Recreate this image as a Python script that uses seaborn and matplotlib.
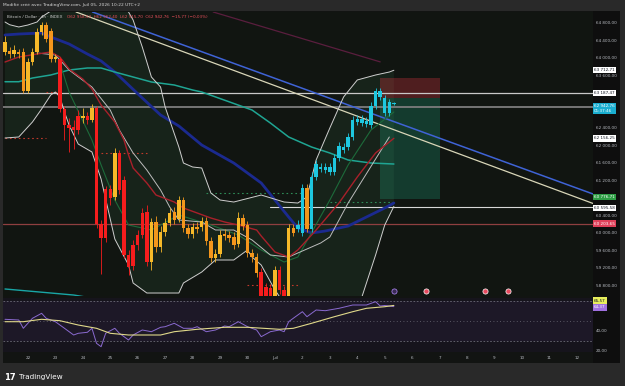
import numpy as np
import matplotlib
matplotlib.use("Agg")
import matplotlib.pyplot as plt
import matplotlib.transforms as mtransforms
from matplotlib.patches import Rectangle
import seaborn as sns

# ------------------------------------------------------------------ data
open_ = [64130, 64153, 64084, 64130, 64130, 63238, 63901, 64130, 64587, 64747,
         64610, 63970, 63970, 62826, 62460, 62415, 62666, 62621, 62666, 62575,
         62849, 60196, 59876, 60997, 60814, 61820, 61203, 59487, 59236, 59716,
         59945, 60471, 59327, 60242, 59670, 60013, 60219, 60471, 60310, 60745,
         60105, 59967, 60127, 60127, 60265, 59808, 59418, 59510, 59967, 59945,
         59899, 59739, 60333, 60173, 59533, 59441, 59098, 58458, 58732, 58458,
         59144, 58687, 58458, 60105, 60082, 59990, 61019, 60082, 61271, 61454,
         61431, 61500, 61385, 61706, 61889, 61957, 62186, 62529, 62598, 62483,
         62460, 62895, 63238, 63078, 62735, 62958.53]
close_ = [64359, 64084, 64176, 64084, 63238, 63901, 64130, 64587, 64747, 64427,
          63970, 64016, 62826, 62460, 62392, 62346, 62346, 62666, 62575, 62849,
          60196, 59876, 60997, 60791, 61820, 60974, 59487, 59213, 59716, 59945,
          60448, 59327, 60242, 59670, 60013, 60219, 60448, 60288, 60745, 60105,
          59967, 60127, 60082, 60265, 59808, 59418, 59510, 59945, 59922, 59876,
          59716, 60333, 60150, 59533, 59441, 59075, 58458, 58755, 58458, 59144,
          58687, 58458, 60105, 59990, 60173, 61019, 60082, 61271, 61568, 61500,
          61500, 61385, 61706, 61980, 61957, 62186, 62575, 62598, 62506, 62552,
          62895, 63238, 63101, 62735, 62986, 62942.76]
high = [64496, 64244, 64290, 64198, 64221, 63993, 64221, 64679, 64816, 64816,
        64679, 64084, 64016, 62895, 62621, 62575, 62803, 62849, 62758, 62941,
        62895, 60288, 61065, 61088, 61934, 61889, 61294, 59602, 59830, 60059,
        60562, 60631, 60333, 60379, 60150, 60333, 60562, 60585, 60837, 60814,
        60196, 60219, 60242, 60356, 60356, 59899, 59624, 60059, 60082, 60036,
        60013, 60471, 60425, 60265, 59624, 59533, 59190, 58847, 58824, 59236,
        59236, 58778, 60196, 60196, 60288, 61111, 61111, 61385, 61660, 61591,
        61591, 61591, 61797, 62072, 62049, 62277, 62666, 62689, 62689, 62643,
        62986, 63307, 63307, 63146, 63055, 62975]
low = [64061, 63993, 64016, 63993, 63192, 63192, 63832, 64084, 64519, 64359,
       63901, 63901, 62758, 62117, 61843, 61911, 62254, 62506, 62483, 62529,
       60105, 59052, 59785, 60631, 60745, 60882, 59418, 59029, 59144, 59602,
       59876, 59236, 59144, 59556, 59556, 59922, 60150, 60196, 60242, 60013,
       59876, 59876, 59990, 60036, 59716, 59327, 59327, 59441, 59830, 59785,
       59624, 59670, 60059, 59441, 59327, 58984, 58344, 58344, 58344, 58344,
       58595, 58344, 58344, 59922, 60013, 59922, 60013, 60013, 61203, 61385,
       61362, 61317, 61317, 61637, 61820, 61889, 62117, 62460, 62437, 62415,
       62392, 62826, 63032, 62666, 62666, 62915]
bar_kind = list("YOYOOYYYYO" "OYRRRRRYRY" "RRRRYRRRRR" "RRYOYYYOYO"
                "OYOYOOYYOO" "OYOOOORRRY" "RRYOCCOCCC" "CCCCCCCCCC" "CCCCCC")

# Bollinger bands (vertex index, price)
bb_up_idx = [0, 1, 3, 5, 7, 8, 10, 13, 20, 25, 27, 28, 30, 32, 34, 35, 38, 39, 41, 43,
             45, 47, 50, 56, 61, 64, 66, 68, 71, 74, 77, 81, 84, 85]
bb_up_val = [64816, 64754, 64702, 64747, 64816, 64930, 65067, 65350, 65450, 65250,
             65045, 64862, 64244, 63558, 63329, 62872, 61957, 61591, 61500, 61477,
             60905, 60745, 60699, 60859, 60699, 60676, 60814, 61660, 62392, 63101,
             63490, 63604, 63672, 63712.71]
bb_lo_idx = [0, 3, 4, 6, 8, 10, 11, 12, 13, 14, 16, 19, 21, 23, 24, 27, 28, 31, 38, 39,
             43, 46, 50, 53, 54, 56, 59, 62, 66, 70, 74, 78, 81, 83, 85]
bb_lo_val = [62163, 62186, 62300, 62529, 62826, 63146, 63215, 63101, 62758, 62460,
             62025, 61843, 61225, 60310, 59853, 59258, 58847, 58618, 58618, 58847,
             59098, 59373, 59373, 59602, 59441, 59258, 58687, 58229, 58046, 58046,
             58183, 58526, 59487, 60173, 60599.79]
bb_mid_idx = [0, 3, 7, 10, 12, 14, 17, 19, 21, 24, 26, 27, 28, 31, 33, 37, 39, 42, 45,
              48, 51, 55, 56, 59, 62, 64, 68, 73, 77, 81, 85]
bb_mid_val = [63901, 64015, 64084, 64130, 64015, 63741, 63512, 63284, 62918, 62529,
              62117, 61774, 61477, 61134, 60859, 60699, 60562, 60448, 60333, 60242,
              60173, 60059, 59922, 59556, 59441, 59602, 60059, 60676, 61271, 61820,
              62156.25]
ema_w_idx = [7, 11, 14, 19, 23, 25, 28, 31, 34, 36, 38, 43, 46, 50, 54, 58, 62, 64,
             69, 71, 75, 84]
ema_w_val = [64107, 64061, 63718, 63329, 62803, 62346, 61820, 61431, 60974, 60585,
             60288, 60242, 60059, 60059, 59830, 59487, 59441, 59533, 59762, 59899,
             60676, 62186]
ema_g_idx = [12, 14, 19, 21, 24, 27, 32, 38, 45, 51, 56, 61, 64, 71, 75, 80, 85]
ema_g_val = [63878, 63215, 62117, 61546, 60745, 60173, 60059, 60402, 60173, 59945,
             59602, 59327, 59441, 60745, 61546, 62346, 62758]
navy_idx = [0, 3, 8, 10, 14, 18, 21, 24, 27, 30, 34, 38, 43, 50, 56, 59, 62, 64, 67,
            70, 75, 79, 83, 85]
navy_val = [64519, 64541, 64564, 64473, 64313, 64084, 63924, 63672, 63375, 63078,
            62689, 62437, 62003, 61591, 61134, 60745, 60356, 60105, 59990, 60036,
            60150, 60356, 60562, 60676]
teal_idx = [0, 3, 6, 10, 14, 18, 21, 24, 28, 32, 37, 41, 43, 54, 58, 62, 67, 71, 75,
            80, 85]
teal_val = [63450, 63450, 63535, 63604, 63718, 63764, 63764, 63672, 63558, 63444,
            63375, 63261, 63215, 62803, 62506, 62186, 61957, 61820, 61660, 61591,
            61568]
long_ma_idx = [0, 15, 25]
long_ma_val = [58710, 58572, 58400]

# drawn levels / lines
full_levels = [63187.47, 62880, 60203.65]
ray_level, ray_start = 60595.58, 58
trend_blue = [(71, 63071), (119.1, 61241)]
trend_white = [(71, 62895), (119.1, 61031)]
trend_mag_idx = [45.5, 82]
trend_mag_val = [65045, 63904]
pos_start, pos_end = 82, 95
pos_entry, pos_stop, pos_target = 63071, 63535, 60776.71
dot_levels = [(62163, 0, 9, 'r'), (63215, 9, 12, 'r'), (61827, 21, 31, 'r'),
              (60898, 44, 65, 'g'), (60706, 71, 85, 'g'), (58801, 53, 64, 'r')]
event_idx = [85, 92, 105, 110]
event_kind = ['p', 'r', 'r', 'r']

# RSI
rsi_idx = [0, 3, 4, 6, 8, 9, 11, 13, 15, 16, 18, 19, 20, 21, 22, 24, 25, 27, 28, 30,
           32, 34, 35, 37, 39, 41, 42, 44, 46, 48, 49, 51, 53, 55, 56, 58, 60, 61,
           62, 63, 65, 66, 68, 70, 73, 76, 77, 79, 81, 82, 83, 85]
rsi_val = [51.7, 51, 42.7, 52.7, 57.7, 52.7, 49.3, 42.7, 36, 37.7, 38.7, 42.7, 27.7,
           24.3, 37.7, 42.7, 37.7, 31, 36, 41, 39.3, 43.7, 44.3, 47.7, 42.7, 42.7,
           44.3, 39.3, 41, 45, 44.3, 49.3, 44.3, 41, 34.3, 39.3, 41, 39.3, 49.3,
           52.7, 59.3, 54.3, 61, 60.3, 62.7, 66, 66, 66, 69.3, 65, 65.5, 64.37]
rsi_ma_idx = [0, 4, 8, 12, 16, 20, 23, 27, 34, 37, 42, 48, 53, 60, 63, 67, 72, 76,
              79, 83, 85]
rsi_ma_val = [49.3, 49.3, 51.7, 50.3, 46, 42.7, 37.7, 36, 36, 39.3, 41.7, 43.7, 43.7,
              41.7, 42.7, 47.7, 54.3, 59.3, 62.7, 64.3, 65.57]

price_ticks = list(range(58800, 64801, 400))
hidden_ticks = [63200, 62800, 60800]
rsi_ticks = [20, 40]
day_labels = ['22', '23', '24', '25', '26', '27', '28', '29', '30', 'Juil',
              '2', '3', '4', '5', '6', '7', '8', '9', '10', '11', '12']
first_day_idx, bars_per_day = 5, 6

axis_labels = [63712.71, 63187.47, 62156.25, 60776.71, 60595.58, 60203.65]
axis_label_fc = ['#ffffff', '#ffffff', '#ffffff', '#2e9e45', '#ffffff', '#e0405a']
axis_label_tc = ['#131722', '#131722', '#131722', '#ffffff', '#131722', '#ffffff']
axis_label_shift = [0, 0, 0, 1.6, -1.6, 0]          # px, to stack touching labels
last_close_label = (62942.76, '01:37:46')
rsi_labels = [65.57, 64.37]
rsi_label_fc = ['#e7ee5c', '#a070e0']
rsi_label_tc = ['#131722', '#ffffff']
rsi_label_shift = [4.7, -0.8]

# ------------------------------------------------------------------ style
sns.set_style("dark")
plt.rcParams['font.family'] = ['DejaVu Sans']

W, H = 625, 386
fig = plt.figure(figsize=(W / 100, H / 100), dpi=100)
fig.patch.set_facecolor('#292929')


def fx(px):
    return px / W


def fy(py):
    return 1 - py / H


def fr(v):
    return f"{v:,.2f}".replace(',', ' ').replace('.', ',')


fig.patches.append(Rectangle((fx(3), fy(363)), fx(620) - fx(3), fy(11) - fy(363),
                             transform=fig.transFigure, facecolor='#121412',
                             edgecolor='none', zorder=-5))
fig.patches.append(Rectangle((fx(593), fy(363)), fx(620) - fx(593), fy(11) - fy(363),
                             transform=fig.transFigure, facecolor='#0e0e0e',
                             edgecolor='none', zorder=-4))

ax = fig.add_axes([fx(3), fy(296), fx(593) - fx(3), fy(12) - fy(296)])
axr = fig.add_axes([fx(3), fy(352), fx(593) - fx(3), fy(298) - fy(352)])
XL = (-0.44, 128.52)
for a in (ax, axr):
    a.set_xlim(*XL)
    for s in a.spines.values():
        s.set_visible(False)
    a.grid(False)
ax.set_facecolor('#111511')
axr.set_facecolor('#16141c')
ax.set_ylim(58549.6, 65044.7)
axr.set_ylim(19, 73)

# ---- BB fill + lines
ax.fill(np.r_[bb_up_idx, bb_lo_idx[::-1]], np.r_[bb_up_val, bb_lo_val[::-1]],
        color='#3c6e4e', alpha=0.16, lw=0, zorder=1)

level_col = ['#c9c9c9', '#7d7d7d', '#8f3f40']
level_lw = [0.9, 1.3, 0.9]
for lv, col, lw in zip(full_levels, level_col, level_lw):
    ax.axhline(lv, color=col, lw=lw, zorder=2)
ax.plot([ray_start, XL[1]], [ray_level, ray_level], color='#d8d8d8', lw=0.8, zorder=2)

for (p1, p2), col, lw in [(trend_blue, '#3f63d6', 1.1), (trend_white, '#d9d6b8', 0.9)]:
    ax.axline(p1, p2, color=col, lw=lw, zorder=3)
ax.plot(trend_mag_idx, trend_mag_val, color='#5a1e3e', lw=0.9, zorder=3)

ax.fill_between([pos_start, pos_end], pos_entry, pos_stop, color='#f23645', alpha=0.28,
                lw=0, zorder=1)
ax.fill_between([pos_start, pos_end], pos_target, pos_entry, color='#1f9e7a', alpha=0.28,
                lw=0, zorder=1)

for lv, s, e, c in dot_levels:
    ax.plot([s, e], [lv, lv], ls=(0, (1.5, 2.5)), lw=0.8,
            color='#c0392b' if c == 'r' else '#2e8b57', zorder=2)

sns.lineplot(x=long_ma_idx, y=long_ma_val, ax=ax, color='#19a6a6', lw=1.0, zorder=3)
sns.lineplot(x=navy_idx, y=navy_val, ax=ax, color='#1b2a8f', lw=2.0, zorder=3)
sns.lineplot(x=teal_idx, y=teal_val, ax=ax, color='#1fa593', lw=1.1, zorder=3)
sns.lineplot(x=ema_g_idx, y=ema_g_val, ax=ax, color='#1d6b3a', lw=0.8, zorder=3)
sns.lineplot(x=bb_up_idx, y=bb_up_val, ax=ax, color='#cfcfcf', lw=0.7, zorder=3)
sns.lineplot(x=bb_lo_idx, y=bb_lo_val, ax=ax, color='#cfcfcf', lw=0.7, zorder=3)
sns.lineplot(x=ema_w_idx, y=ema_w_val, ax=ax, color='#bdbdbd', lw=0.7, zorder=3)
sns.lineplot(x=bb_mid_idx, y=bb_mid_val, ax=ax, color='#a8202a', lw=1.0, zorder=3)

# ---- candles
palette = {'R': '#f51d1d', 'O': '#f3961c', 'Y': '#f6b929', 'C': '#1ec8e0'}
idx = np.arange(len(open_))
o, c = np.array(open_, float), np.array(close_, float)
bottoms = np.minimum(o, c)
heights = np.maximum(np.abs(c - o), 25)
cols = [palette[k] for k in bar_kind]
ax.vlines(idx, low, high, colors=cols, lw=0.6, zorder=4)
ax.bar(idx, heights, bottom=bottoms, width=0.76, color=cols, lw=0, zorder=5)

# event markers
ev_tr = mtransforms.blended_transform_factory(ax.transData, ax.transAxes)
for ei, ek in zip(event_idx, event_kind):
    ax.scatter([ei], [0.018], transform=ev_tr, s=14,
               facecolor='#3a2a55' if ek == 'p' else '#e84a5f',
               edgecolor='#b58cff' if ek == 'p' else '#ffffff', lw=0.5, zorder=6,
               clip_on=False)

# ---- price axis
ax.yaxis.tick_right()
ax.set_yticks(price_ticks)
ax.set_yticklabels(['' if v in hidden_ticks else fr(v) for v in price_ticks])
ax.tick_params(axis='y', length=0, pad=2.2, labelsize=3, labelcolor='#b8bbc2')
ax.set_xticks([])

lab_tr = mtransforms.blended_transform_factory(ax.transAxes, ax.transData)
for v, fc, tc, sh in zip(axis_labels, axis_label_fc, axis_label_tc, axis_label_shift):
    tr = mtransforms.offset_copy(lab_tr, fig=fig, y=sh, units='dots')
    ax.text(1.0015, v, fr(v), transform=tr, ha='left', va='center', fontsize=3,
            color=tc, clip_on=False, zorder=10,
            bbox=dict(boxstyle='square,pad=0.3', fc=fc, ec='none'))
ax.text(1.0015, last_close_label[0], fr(last_close_label[0]) + '\n' + last_close_label[1],
        transform=lab_tr, ha='left', va='top', fontsize=3, color='#ffffff',
        linespacing=1.3, clip_on=False, zorder=10,
        bbox=dict(boxstyle='square,pad=0.3', fc='#1aaed0', ec='none'))

# ---- RSI pane
axr.axhspan(30, 70, color='#7e57c2', alpha=0.07, lw=0)
for lv, ls in [(70, (0, (2, 2))), (50, (0, (1, 3))), (30, (0, (2, 2)))]:
    axr.axhline(lv, color='#6c6c78', lw=0.6, ls=ls)
sns.lineplot(x=rsi_idx, y=rsi_val, ax=axr, color='#8a6ad0', lw=0.7)
sns.lineplot(x=rsi_ma_idx, y=rsi_ma_val, ax=axr, color='#e0d98a', lw=0.8)
axr.yaxis.tick_right()
axr.set_yticks(rsi_ticks)
axr.set_yticklabels([fr(v) for v in rsi_ticks])
axr.tick_params(axis='y', length=0, pad=2.2, labelsize=3, labelcolor='#b8bbc2')
rl_tr = mtransforms.blended_transform_factory(axr.transAxes, axr.transData)
for v, fc, tc, sh in zip(rsi_labels, rsi_label_fc, rsi_label_tc, rsi_label_shift):
    tr = mtransforms.offset_copy(rl_tr, fig=fig, y=sh, units='dots')
    axr.text(1.0015, v, fr(v), transform=tr, ha='left', va='center', fontsize=3,
             color=tc, clip_on=False, zorder=10,
             bbox=dict(boxstyle='square,pad=0.3', fc=fc, ec='none'))
day_idx = [first_day_idx + bars_per_day * k for k in range(len(day_labels))]
axr.set_xticks(day_idx)
axr.set_xticklabels(day_labels)
axr.tick_params(axis='x', length=0, pad=3.0, labelsize=3, labelcolor='#b8bbc2')
for a in (ax, axr):
    a.set_xlabel('')
    a.set_ylabel('')

# ---- header texts
fig.text(fx(3), fy(5), "Modifié créé avec TradingView.com, Juil 05, 2026 10:22 UTC+2",
         fontsize=3.2, color='#d6d6d6', va='center', ha='left')
fig.text(fx(7), fy(17.5), "Bitcoin / Dollar · 4h · INDEX", fontsize=3,
         color='#c8c8c8', va='center', ha='left')
fig.text(fx(67), fy(17.5),
         "O62 958,53  H62 962,40  L62 915,70  C62 942,76  −15,77 (−0,03%)",
         fontsize=3, color='#e8505b', va='center', ha='left')
fig.text(fx(4), fy(377), "17", fontsize=6, fontweight='bold', color='#ffffff',
         va='center', ha='left')
fig.text(fx(19), fy(377), "TradingView", fontsize=5.2, color='#ffffff',
         va='center', ha='left')

fig.savefig("out.png", dpi=100, facecolor=fig.get_facecolor())
